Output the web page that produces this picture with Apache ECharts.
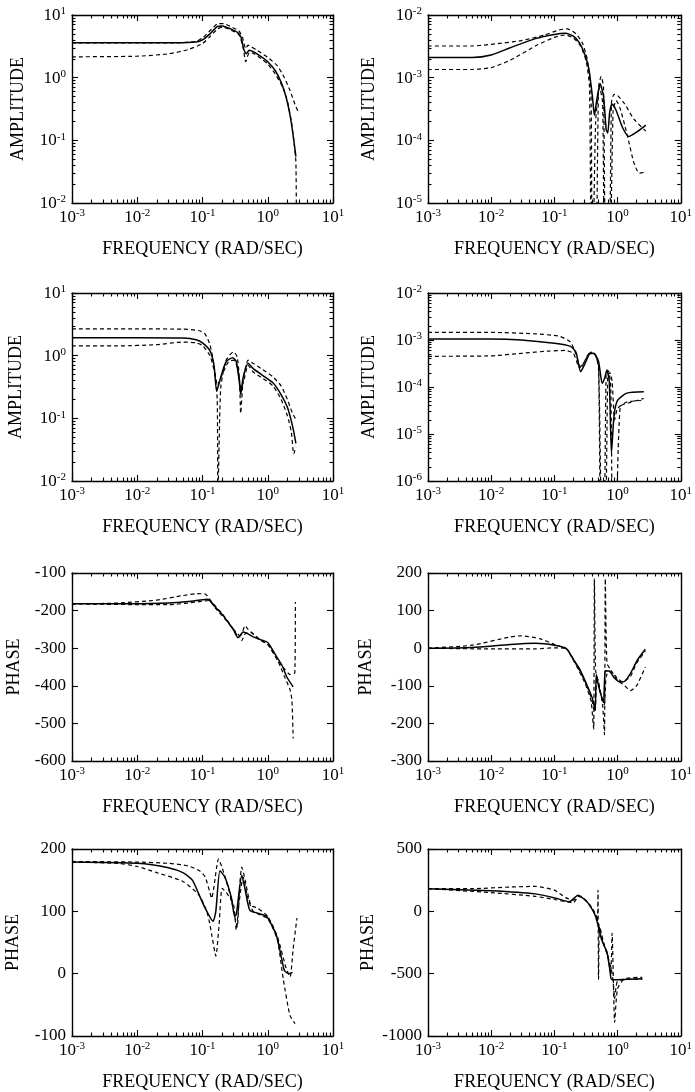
<!DOCTYPE html>
<html>
<head>
<meta charset="utf-8">
<script src="https://cdn.jsdelivr.net/npm/echarts@6/dist/echarts.min.js"></script>
<style>
  html, body { margin: 0; padding: 0; background: #ffffff; }
  #chart { width: 695px; height: 1092px; }
</style>
</head>
<body>
<div id="chart"></div>
<script>
// Frequency responses: [frequency (rad/sec), value] pairs for each panel.
// Solid = estimate, dashA / dashB = the two dashed bounds.

// Panel 1: amplitude
const p1Solid = [[0.001,3.6],[0.01,3.6],[0.04,3.6],[0.08,3.7],[0.1,4.0],[0.13,5.0],[0.17,6.6],[0.2,6.7],[0.27,6.0],[0.35,5.2],[0.39,4.4],[0.43,2.8],[0.47,2.4],[0.52,2.75],[0.6,2.6],[0.8,2.15],[1.0,1.8],[1.3,1.3],[1.6,0.85],[1.9,0.5],[2.2,0.25],[2.45,0.12],[2.7,0.055]];
const p1DashA = [[0.001,3.6],[0.01,3.6],[0.04,3.6],[0.08,3.8],[0.1,4.3],[0.13,5.6],[0.17,7.2],[0.21,7.3],[0.28,6.4],[0.36,5.6],[0.41,4.4],[0.46,2.9],[0.5,3.3],[0.56,3.1],[0.7,2.7],[1.0,2.1],[1.4,1.55],[1.8,1.0],[2.2,0.62],[2.6,0.38],[3.0,0.27]];
const p1DashB = [[0.001,2.15],[0.01,2.2],[0.03,2.4],[0.06,2.8],[0.1,3.5],[0.13,4.5],[0.17,6.0],[0.2,6.4],[0.27,5.8],[0.36,4.9],[0.42,3.0],[0.46,1.8],[0.52,2.5],[0.6,2.45],[0.8,2.0],[1.0,1.65],[1.3,1.15],[1.7,0.7],[2.0,0.42],[2.3,0.2],[2.55,0.085],[2.7,0.045],[2.75,0.005]];

// Panel 2: amplitude
const p2Solid = [[0.001,2.1e-3],[0.005,2.1e-3],[0.01,2.3e-3],[0.02,3.0e-3],[0.05,4.2e-3],[0.1,4.9e-3],[0.15,5.1e-3],[0.2,4.6e-3],[0.25,3.6e-3],[0.3,2.4e-3],[0.35,1.4e-3],[0.4,5e-4],[0.43,2.5e-4],[0.47,4.5e-4],[0.53,8.0e-4],[0.6,5e-4],[0.66,1.5e-4],[0.7,1.3e-4],[0.75,2.8e-4],[0.82,3.8e-4],[0.95,3.0e-4],[1.2,1.6e-4],[1.5,1.15e-4],[2.0,1.35e-4],[2.8,1.75e-4]];
const p2DashA = [[0.001,3.2e-3],[0.005,3.2e-3],[0.01,3.4e-3],[0.03,3.9e-3],[0.07,4.8e-3],[0.12,5.8e-3],[0.16,6.0e-3],[0.22,5.0e-3],[0.28,3.5e-3],[0.33,2.0e-3],[0.38,6e-4],[0.4,1e-7],[0.44,1e-7],[0.5,7e-4],[0.55,1.05e-3],[0.6,7e-4],[0.66,1e-7],[0.72,1e-7],[0.8,4e-4],[0.88,5.4e-4],[1.0,5.2e-4],[1.3,3.8e-4],[1.8,2.2e-4],[2.8,1.4e-4]];
const p2DashB = [[0.001,1.35e-3],[0.005,1.35e-3],[0.01,1.45e-3],[0.02,1.9e-3],[0.05,3.2e-3],[0.1,4.4e-3],[0.15,4.8e-3],[0.2,4.3e-3],[0.26,3.2e-3],[0.32,1.8e-3],[0.36,7e-4],[0.39,1e-7],[0.45,2e-4],[0.52,7e-4],[0.58,4e-4],[0.64,1e-7],[0.72,1e-7],[0.85,3e-4],[0.95,4.3e-4],[1.1,3.2e-4],[1.4,1.3e-4],[1.8,4.5e-5],[2.2,3.0e-5],[2.8,3.1e-5]];

// Panel 3: amplitude
const p3Solid = [[0.001,1.94],[0.01,1.94],[0.05,1.92],[0.08,1.8],[0.1,1.6],[0.13,1.2],[0.15,0.7],[0.165,0.27],[0.19,0.45],[0.23,0.8],[0.29,0.93],[0.33,0.8],[0.37,0.35],[0.385,0.24],[0.42,0.45],[0.5,0.76],[0.6,0.62],[0.8,0.5],[1.2,0.37],[1.6,0.24],[2.0,0.15],[2.4,0.075],[2.7,0.04]];
const p3DashA = [[0.001,2.67],[0.01,2.67],[0.05,2.65],[0.09,2.5],[0.11,2.2],[0.13,1.5],[0.15,0.7],[0.168,0.2],[0.172,0.005],[0.19,0.3],[0.23,0.85],[0.3,1.15],[0.34,0.95],[0.37,0.4],[0.385,0.12],[0.42,0.4],[0.5,0.85],[0.6,0.75],[0.8,0.62],[1.2,0.46],[1.6,0.33],[2.0,0.2],[2.4,0.12],[2.8,0.09]];
const p3DashB = [[0.001,1.43],[0.005,1.43],[0.02,1.5],[0.05,1.65],[0.08,1.6],[0.1,1.45],[0.13,1.0],[0.15,0.6],[0.17,0.34],[0.2,0.5],[0.25,0.8],[0.3,0.85],[0.35,0.6],[0.39,0.3],[0.43,0.4],[0.5,0.7],[0.6,0.55],[0.8,0.45],[1.2,0.33],[1.6,0.2],[2.0,0.11],[2.3,0.06],[2.5,0.027],[2.7,0.035]];

// Panel 4: amplitude
const p4Solid = [[0.001,1.05e-3],[0.01,1.05e-3],[0.03,1.0e-3],[0.1,8.5e-4],[0.18,7.3e-4],[0.22,5.5e-4],[0.26,2.1e-4],[0.3,3.0e-4],[0.36,5.0e-4],[0.42,5.2e-4],[0.5,3.5e-4],[0.57,1.2e-4],[0.62,1.5e-4],[0.68,2.3e-4],[0.74,1.3e-4],[0.8,4e-6],[0.88,2.5e-5],[1.0,5.2e-5],[1.4,7.4e-5],[2.6,7.9e-5]];
const p4DashA = [[0.001,1.45e-3],[0.01,1.45e-3],[0.05,1.35e-3],[0.12,1.2e-3],[0.18,9e-4],[0.22,5e-4],[0.26,2.5e-4],[0.31,3.8e-4],[0.38,5.5e-4],[0.44,5e-4],[0.5,2.5e-4],[0.55,1e-8],[0.6,1e-8],[0.66,2.0e-4],[0.72,2.2e-4],[0.78,1e-4],[0.85,1e-8],[0.9,1e-8],[1.1,3.8e-5],[1.6,4.7e-5],[2.6,5.7e-5]];
const p4DashB = [[0.001,4.5e-4],[0.01,4.6e-4],[0.03,5.2e-4],[0.08,5.8e-4],[0.15,6.0e-4],[0.2,5.2e-4],[0.25,2.6e-4],[0.29,3.2e-4],[0.36,5.3e-4],[0.43,5.0e-4],[0.5,3.0e-4],[0.58,1e-8],[0.63,1e-8],[0.7,1.8e-4],[0.76,2e-4],[0.82,1.3e-4],[0.9,2e-5],[1.0,3.5e-5],[1.4,4.8e-5],[2.6,5.2e-5]];

// Panel 5: phase
const p5Solid = [[0.001,-182],[0.01,-182],[0.03,-180],[0.06,-176],[0.1,-171],[0.12,-170],[0.15,-187],[0.2,-210],[0.3,-252],[0.35,-272],[0.42,-257],[0.5,-262],[0.6,-270],[0.8,-278],[1.0,-285],[1.37,-323],[1.7,-350],[1.95,-376],[2.45,-403]];
const p5DashA = [[0.001,-182],[0.005,-180],[0.02,-172],[0.05,-160],[0.08,-155],[0.11,-156],[0.14,-178],[0.2,-208],[0.3,-250],[0.36,-270],[0.4,-262],[0.45,-240],[0.5,-250],[0.6,-262],[0.8,-280],[1.0,-290],[1.4,-330],[1.8,-355],[2.2,-370],[2.6,-365],[2.65,-177]];
const p5DashB = [[0.001,-182],[0.01,-184],[0.03,-184],[0.06,-180],[0.1,-175],[0.13,-173],[0.16,-195],[0.22,-222],[0.3,-250],[0.36,-265],[0.4,-280],[0.45,-262],[0.55,-258],[0.7,-275],[1.0,-290],[1.4,-330],[1.8,-375],[2.2,-411],[2.35,-440],[2.45,-540]];

// Panel 6: phase
const p6Solid = [[0.001,0],[0.005,2],[0.02,10],[0.05,13],[0.1,8],[0.155,-1],[0.2,-30],[0.25,-55],[0.32,-94],[0.4,-134],[0.43,-155],[0.445,-160],[0.46,-70],[0.5,-100],[0.56,-130],[0.6,-145],[0.64,-60],[0.75,-62],[0.9,-80],[1.1,-90],[1.3,-88],[1.6,-67],[2.05,-32],[2.75,-3]];
const p6DashA = [[0.001,0],[0.005,8],[0.02,30],[0.03,33],[0.06,25],[0.1,10],[0.155,-2],[0.2,-32],[0.3,-90],[0.38,-140],[0.41,-200],[0.42,-215],[0.43,185],[0.45,-60],[0.5,-90],[0.58,-150],[0.62,-230],[0.64,185],[0.68,-40],[0.8,-60],[1.0,-85],[1.3,-100],[1.6,-113],[2.0,-100],[2.75,-50]];
const p6DashB = [[0.001,0],[0.01,-2],[0.05,-2],[0.1,1],[0.155,-1],[0.2,-30],[0.3,-85],[0.38,-130],[0.42,-160],[0.44,-170],[0.47,-75],[0.52,-110],[0.58,-140],[0.62,-150],[0.66,-75],[0.75,-60],[0.9,-72],[1.2,-90],[1.6,-75],[2.0,-40],[2.75,-8]];

// Panel 7: phase
const p7Solid = [[0.001,179],[0.01,177],[0.03,170],[0.05,162],[0.07,150],[0.09,125],[0.11,105],[0.145,84],[0.16,100],[0.185,165],[0.22,155],[0.28,120],[0.31,92],[0.33,95],[0.4,158],[0.45,135],[0.53,102],[0.7,97],[0.96,92],[1.37,60],[1.8,5],[2.1,0],[2.4,2]];
const p7DashA = [[0.001,180],[0.01,179],[0.03,177],[0.06,173],[0.09,165],[0.11,155],[0.13,130],[0.138,121],[0.15,140],[0.176,184],[0.2,170],[0.26,130],[0.3,100],[0.34,75],[0.37,140],[0.4,171],[0.45,150],[0.55,110],[0.7,105],[1.0,92],[1.4,60],[1.9,10],[2.2,-5],[2.45,40],[2.8,89]];
const p7DashB = [[0.001,179],[0.005,177],[0.01,172],[0.02,162],[0.05,148],[0.09,125],[0.12,95],[0.14,60],[0.16,28],[0.18,80],[0.2,137],[0.24,128],[0.3,110],[0.33,70],[0.36,110],[0.42,155],[0.5,120],[0.6,100],[1.0,88],[1.4,55],[1.73,-9],[2.19,-67],[2.62,-80]];

// Panel 8: phase
const p8Solid = [[0.001,182],[0.01,165],[0.05,140],[0.11,103],[0.17,77],[0.2,100],[0.235,130],[0.3,95],[0.36,50],[0.45,-42],[0.56,-228],[0.68,-330],[0.76,-480],[0.8,-545],[1.0,-548],[1.5,-545],[2.46,-540]];
const p8DashA = [[0.001,182],[0.005,182],[0.02,195],[0.05,200],[0.1,170],[0.15,110],[0.2,90],[0.25,125],[0.35,60],[0.45,-20],[0.48,-80],[0.49,170],[0.5,-545],[0.52,-120],[0.6,-250],[0.7,-350],[0.78,-500],[0.82,-175],[0.9,-890],[1.0,-620],[1.3,-540],[2.46,-530]];
const p8DashB = [[0.001,182],[0.01,150],[0.05,120],[0.1,95],[0.2,70],[0.24,120],[0.3,100],[0.4,20],[0.5,-100],[0.6,-260],[0.7,-360],[0.8,-470],[0.85,-560],[0.9,-700],[0.95,-600],[1.0,-560],[1.3,-545],[2.46,-545]];

// Axis text
const xName = 'FREQUENCY (RAD/SEC)';
const ampName = 'AMPLITUDE';
const phaseName = 'PHASE';
const freqDecades = [-3, -2, -1, 0, 1];

// Panel layout: column, row, y-axis spec, name gap, series
const panels = [
  { col: 0, row: 0, y: { type: 'log', decades: [-2, 1] }, name: ampName, gap: 45, data: [p1Solid, p1DashA, p1DashB] },
  { col: 1, row: 0, y: { type: 'log', decades: [-5, -2] }, name: ampName, gap: 50, data: [p2Solid, p2DashA, p2DashB] },
  { col: 0, row: 1, y: { type: 'log', decades: [-2, 1] }, name: ampName, gap: 47, data: [p3Solid, p3DashA, p3DashB] },
  { col: 1, row: 1, y: { type: 'log', decades: [-6, -2] }, name: ampName, gap: 50, data: [p4Solid, p4DashA, p4DashB] },
  { col: 0, row: 2, y: { type: 'value', min: -600, max: -100, interval: 100 }, name: phaseName, gap: 49, data: [p5Solid, p5DashA, p5DashB] },
  { col: 1, row: 2, y: { type: 'value', min: -300, max: 200, interval: 100 }, name: phaseName, gap: 53, data: [p6Solid, p6DashA, p6DashB] },
  { col: 0, row: 3, y: { type: 'value', min: -100, max: 200, interval: 100 }, name: phaseName, gap: 50, data: [p7Solid, p7DashA, p7DashB] },
  { col: 1, row: 3, y: { type: 'value', min: -1000, max: 500, interval: 500 }, name: phaseName, gap: 51, data: [p8Solid, p8DashA, p8DashB] }
];

const FONT = "'Liberation Serif', 'Times New Roman', serif";
const INK = '#000000';
const colLeft = [72, 428];
const rowTop = [15, 293, 573, 849];
const W = 261, H = 188;

function logTicks(lo, hi) {
  const major = [], minor = [];
  for (let e = lo; e <= hi; e++) {
    major.push(Number('1e' + e));
    if (e < hi) for (let m = 2; m <= 9; m++) minor.push(Number(m + 'e' + e));
  }
  return { major, minor };
}

const powRich = {
  b: { fontFamily: FONT, fontSize: 17, lineHeight: 18, verticalAlign: 'bottom', color: INK },
  s: { fontFamily: FONT, fontSize: 11, lineHeight: 12, verticalAlign: 'top', color: INK }
};
function powLabel(v) {
  const e = Math.round(Math.log10(v));
  return '{b|10}{s|' + e + '}';
}

const lineW = 1.4;
const grid = [], xAxis = [], yAxis = [], series = [];

panels.forEach((p, i) => {
  grid.push({ left: colLeft[p.col], top: rowTop[p.row], width: W, height: H });

  const fx = logTicks(freqDecades[0], freqDecades[freqDecades.length - 1]);
  const xBase = { type: 'log', logBase: 10, min: 0.001, max: 10, gridIndex: i, splitLine: { show: false } };
  const xi = xAxis.length;
  // bottom edge: line, labels, decade ticks
  xAxis.push(Object.assign({}, xBase, {
    position: 'bottom',
    name: xName, nameLocation: 'middle', nameGap: 37,
    nameTextStyle: { fontFamily: FONT, fontSize: 18, color: INK },
    axisLine: { show: true, onZero: false, lineStyle: { color: INK, width: lineW } },
    axisTick: { show: true, inside: true, length: 6, customValues: fx.major, lineStyle: { color: INK, width: 1.1 } },
    axisLabel: { show: true, margin: 5, customValues: fx.major, formatter: powLabel, rich: powRich }
  }));
  // top edge with decade ticks
  xAxis.push(Object.assign({}, xBase, {
    position: 'top',
    axisLine: { show: true, onZero: false, lineStyle: { color: INK, width: lineW } },
    axisTick: { show: true, inside: true, length: 6, customValues: fx.major, lineStyle: { color: INK, width: 1.1 } },
    axisLabel: { show: false }
  }));
  // minor ticks, bottom and top
  ['bottom', 'top'].forEach(pos => {
    xAxis.push(Object.assign({}, xBase, {
      position: pos,
      axisLine: { show: false, onZero: false },
      axisTick: { show: true, inside: true, length: 3.5, customValues: fx.minor, lineStyle: { color: INK, width: 1.1 } },
      axisLabel: { show: false }
    }));
  });

  const yi = yAxis.length;
  let yBase, yMajorTick, yLabel, yMinor = null;
  if (p.y.type === 'log') {
    const ft = logTicks(p.y.decades[0], p.y.decades[1]);
    yBase = { type: 'log', logBase: 10, min: ft.major[0], max: ft.major[ft.major.length - 1], gridIndex: i, splitLine: { show: false } };
    yMajorTick = { show: true, inside: true, length: 6, customValues: ft.major, lineStyle: { color: INK, width: 1.1 } };
    yLabel = { show: true, margin: 6, customValues: ft.major, formatter: powLabel, rich: powRich };
    yMinor = ft.minor;
  } else {
    yBase = { type: 'value', min: p.y.min, max: p.y.max, interval: p.y.interval, gridIndex: i, splitLine: { show: false } };
    yMajorTick = { show: true, inside: true, length: 6, lineStyle: { color: INK, width: 1.1 } };
    yLabel = { show: true, margin: 6, fontFamily: FONT, fontSize: 17, color: INK, formatter: v => String(v) };
  }
  yAxis.push(Object.assign({}, yBase, {
    position: 'left',
    name: p.name, nameLocation: 'middle', nameGap: p.gap,
    nameTextStyle: { fontFamily: FONT, fontSize: 18, color: INK },
    axisLine: { show: true, onZero: false, lineStyle: { color: INK, width: lineW } },
    axisTick: yMajorTick,
    axisLabel: yLabel
  }));
  yAxis.push(Object.assign({}, yBase, {
    position: 'right',
    axisLine: { show: true, onZero: false, lineStyle: { color: INK, width: lineW } },
    axisTick: yMajorTick,
    axisLabel: { show: false }
  }));
  if (yMinor) {
    ['left', 'right'].forEach(pos => {
      yAxis.push(Object.assign({}, yBase, {
        position: pos,
        axisLine: { show: false, onZero: false },
        axisTick: { show: true, inside: true, length: 3.5, customValues: yMinor, lineStyle: { color: INK, width: 1.1 } },
        axisLabel: { show: false }
      }));
    });
  }

  p.data.forEach((d, k) => {
    series.push({
      type: 'line',
      xAxisIndex: xi,
      yAxisIndex: yi,
      data: d,
      showSymbol: false,
      symbol: 'none',
      smooth: 0.2,
      clip: true,
      silent: true,
      lineStyle: k === 0
        ? { color: INK, width: 1.5, type: 'solid' }
        : { color: INK, width: 1.2, type: [4, 3] }
    });
  });
});

const chart = echarts.init(document.getElementById('chart'), null, { renderer: 'canvas' });
chart.setOption({
  backgroundColor: '#ffffff',
  animation: false,
  textStyle: { fontFamily: FONT },
  grid, xAxis, yAxis, series
});
</script>
</body>
</html>
